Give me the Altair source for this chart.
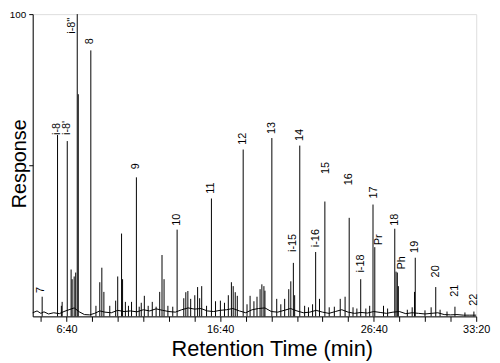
import altair as alt
import pandas as pd

# Peak apex positions (retention time in seconds) and heights (% response)
peak_t = [305, 365, 380, 383, 403,
          418, 422, 430, 436, 442,
          446, 495, 515, 530, 538,
          546, 569, 592, 600, 615,
          619, 630, 642, 654, 673,
          684, 692, 704, 719, 735,
          750, 764, 773, 781, 796,
          815, 832, 858, 866, 874,
          885, 901, 912, 920, 928,
          947, 966, 982, 1001, 1017,
          1032, 1044, 1051, 1059, 1067,
          1090, 1105, 1117, 1132, 1144,
          1156, 1163, 1171, 1175, 1202,
          1221, 1237, 1252, 1268, 1276,
          1286, 1291, 1311, 1330, 1345,
          1361, 1373, 1388, 1409, 1426,
          1446, 1469, 1488, 1504, 1519,
          1534, 1549, 1569, 1584, 1597,
          1604, 1638, 1654, 1682, 1687,
          1692, 1696, 1731, 1750, 1759,
          1762, 1800, 1824, 1842, 1859,
          1886, 1917, 1956, 1991]
peak_v = [6.5, 60, 3.5, 4.8, 58,
          15.5, 12.3, 13.2, 14.5, 100,
          73.5, 88, 3.5, 11.3, 16.1,
          8.1, 3.5, 5.2, 13.2, 27.4,
          12.3, 4.8, 3.5, 4.8, 46,
          3.2, 4.5, 6.8, 3.5, 4.8,
          3.2, 8.1, 20.3, 12.3, 3.5,
          3.2, 28.7, 6, 8, 8.4,
          5.8, 7, 9.7, 6, 10,
          3.5, 39, 5, 5.2, 4.5,
          7, 11.3, 10, 8, 6.8,
          55.2, 4, 6.8, 5, 6.5,
          9, 10.6, 10, 8.5, 59,
          5.8, 4, 5.8, 9, 11.6,
          17.7, 7, 56.5, 3.5, 3,
          4, 21.3, 5.8, 38, 3,
          3.2, 5.8, 6.5, 32.6, 3,
          2.6, 12.3, 2.6, 3.5, 37,
          22.9, 3.5, 2.6, 29, 14.8,
          14.5, 10, 2.2, 3, 8.1,
          19.4, 2, 3, 9.7, 2.2,
          1.6, 3.2, 1.3, 1.6]

# Baseline trace between the peaks
base_t = [268, 285, 300, 312, 330, 350, 372, 390, 410, 430, 450, 470, 490, 510,
          530, 550, 575, 600, 625, 650, 675, 700, 725, 750, 775, 800, 825, 850,
          875, 900, 925, 950, 975, 1000, 1025, 1050, 1075, 1100, 1125, 1150,
          1175, 1200, 1225, 1250, 1275, 1300, 1325, 1350, 1375, 1400, 1425,
          1450, 1475, 1500, 1525, 1550, 1575, 1600, 1625, 1650, 1675, 1700,
          1725, 1750, 1775, 1800, 1825, 1850, 1875, 1900, 1925, 1950, 1975, 2000]
base_v = [1.2, 1.8, 1.0, 1.5, 0.8, 1.2, 0.9, 1.6, 2.2, 2.8, 1.5, 0.6, 0.5, 1.0,
          1.8, 1.4, 1.2, 2.0, 1.6, 1.8, 1.5, 2.2, 1.8, 2.5, 2.0, 1.6, 1.4, 2.2,
          2.8, 2.4, 2.6, 1.8, 1.6, 2.0, 2.2, 2.6, 1.8, 1.2, 2.2, 2.6,
          2.8, 1.6, 1.4, 2.0, 2.6, 1.8, 1.2, 1.4, 2.0, 1.4, 1.0,
          1.6, 2.2, 1.4, 1.0, 1.3, 1.1, 1.6, 1.3, 1.0, 1.4, 1.6,
          0.9, 1.2, 1.0, 0.8, 1.0, 1.2, 0.6, 0.5, 0.6, 0.4, 0.4, 0.4]

# Peak labels
label_text = ["7", "i-8", "i-8'", "i-8''", "8", "9", "10", "11", "12", "13", "14",
              "i-15", "i-16", "15", "16", "i-18", "17", "Pr", "18", "Ph", "19",
              "20", "21", "22"]
label_t = [302, 365, 403, 422, 493, 673, 832, 966, 1090, 1202, 1311,
           1286, 1373, 1412, 1505, 1549, 1600, 1619, 1682, 1710, 1762,
           1845, 1918, 1993]
label_v = [7.7, 60, 60, 93.5, 90, 48.7, 30, 40.6, 56.8, 60.3, 58,
           21.3, 22.9, 47.1, 43.4, 14.5, 39, 23.5, 30, 15.5, 21,
           12.9, 6.5, 3.5]

# Axis ticks (seconds) and the labels shown on some of them
tick_values = list(range(300, 2001, 100))
shown_ticks = [400, 1000, 1600, 2000]
shown_labels = ["6:40", "16:40", "26:40", "33:20"]

peaks = pd.DataFrame({"t": peak_t, "v": peak_v})
base = pd.DataFrame({"t": base_t, "v": base_v})
labels = pd.DataFrame({"t": label_t, "v": label_v, "text": label_text})

FONT = "Liberation Sans"
xs = alt.Scale(domain=[268, 2000], nice=False, zero=False)
ys = alt.Scale(domain=[0, 100], nice=False)

label_expr = "".join("datum.value == %d ? '%s' : " % (v, s)
                     for v, s in zip(shown_ticks, shown_labels)) + "''"

x_axis = alt.Axis(values=tick_values, labelExpr=label_expr, title="Retention Time (min)",
                  titleFontSize=22, titleFont=FONT, titleFontWeight="normal",
                  titleX=242, titleY=40, titleAlign="center", titleBaseline="alphabetic",
                  labelFont=FONT, labelFontSize=11, labelPadding=2, tickSize=5,
                  labelFlush=False,
                  labelColor="black", titleColor="black", domainColor="black",
                  tickColor="black", grid=False)
y_axis = alt.Axis(values=[50, 100], labelExpr="datum.value == 100 ? '100' : ''",
                  title="Response", titleFontSize=20, titleFont=FONT, titleFontWeight="normal",
                  titleX=-7, titleY=151, titleAngle=270, titleAlign="center",
                  titleBaseline="alphabetic",
                  labelFont=FONT, labelFontSize=10, labelPadding=3, tickSize=4,
                  labelColor="black", titleColor="black", domainColor="black",
                  tickColor="black", grid=False)

X = alt.X("t:Q", scale=xs, axis=x_axis)
Y = alt.Y("v:Q", scale=ys, axis=y_axis)

baseline = alt.Chart(base).mark_line(color="black", strokeWidth=1).encode(x=X, y=Y)

rules = alt.Chart(peaks).mark_rule(color="black", strokeWidth=1).encode(
    x=X, y=Y, y2=alt.datum(0),
)

texts = alt.Chart(labels).mark_text(angle=270, align="left", baseline="middle",
                                     font=FONT, fontSize=11, color="black").encode(
    x=X, y=Y, text="text:N",
)

chart = alt.layer(baseline, rules, texts).properties(
    width=449, height=306,
    autosize=alt.AutoSizeParams(type="none"),
    padding={"left": 25, "top": 4, "right": 16, "bottom": 45},
).configure_view(stroke=None).configure(background="white")

chart.save("out.html", embed_options={"renderer": "svg", "actions": False})
